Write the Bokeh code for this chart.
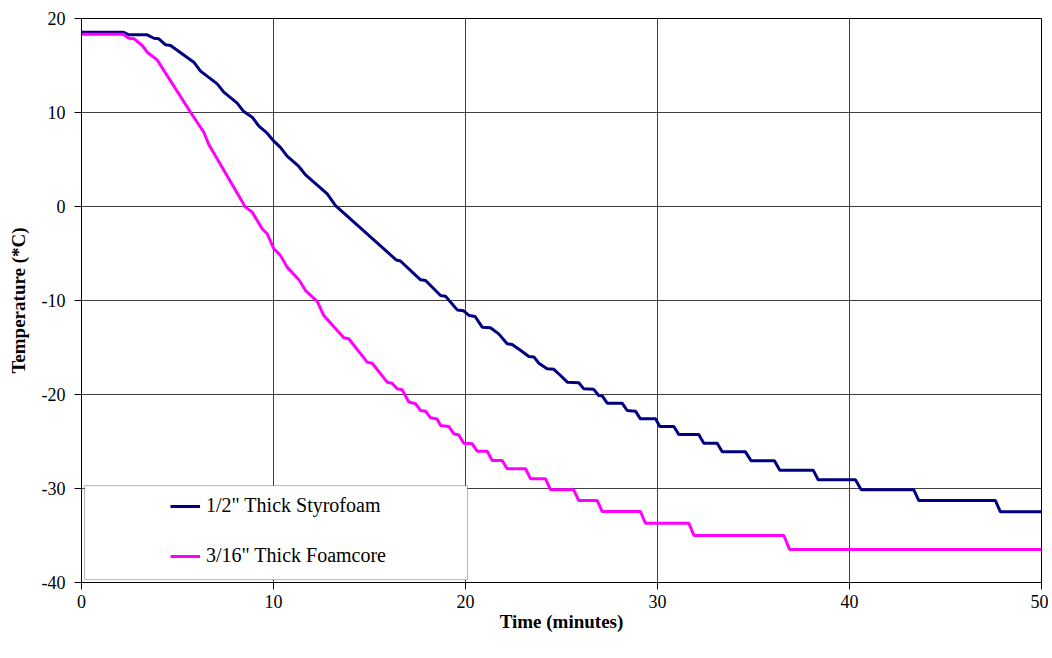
from bokeh.plotting import figure
from bokeh.models import Range1d, Legend, LegendItem, BoxAnnotation, FixedTicker
from bokeh.embed import file_html
from bokeh.resources import INLINE

# 1/2" Thick Styrofoam
styro_t = [0.0, 2.17, 2.47, 3.42, 3.77, 4.03, 4.38, 4.64, 5.85, 6.2, 7.07, 7.41, 8.11, 8.45, 8.89,
           9.24, 9.67, 10.02, 10.36, 10.71, 11.32, 11.67, 12.8, 13.23, 16.4, 16.61, 17.66, 17.92,
           18.7, 18.96, 19.57, 19.9, 20.2, 20.5, 20.87, 21.3, 21.73, 22.17, 22.43, 22.86, 23.3,
           23.56, 23.82, 24.25, 24.6, 24.95, 25.3, 25.9, 26.16, 26.68, 26.94, 27.12, 27.38, 28.16,
           28.42, 28.85, 29.11, 29.9, 30.12, 30.85, 31.11, 32.15, 32.41, 33.11, 33.37, 34.58, 34.88,
           36.09, 36.37, 38.11, 38.37, 40.31, 40.61, 43.35, 43.61, 47.6, 47.86, 50.0]
styro_c = [18.54, 18.54, 18.26, 18.26, 17.9, 17.84, 17.2, 17.13, 15.35, 14.4, 13.05, 12.16, 11.0,
           10.1, 9.5, 8.54, 7.8, 6.95, 6.3, 5.35, 4.26, 3.37, 1.35, 0.1, -5.7, -5.8, -7.8, -7.87,
           -9.47, -9.54, -11.0, -11.1, -11.6, -11.7, -12.84, -12.9, -13.55, -14.6, -14.68, -15.3,
           -15.96, -16.0, -16.67, -17.27, -17.32, -17.98, -18.69, -18.75, -19.4, -19.45, -20.1,
           -20.15, -20.92, -20.92, -21.7, -21.77, -22.59, -22.59, -23.4, -23.4, -24.26, -24.26,
           -25.18, -25.18, -26.1, -26.1, -27.06, -27.06, -28.05, -28.05, -29.08, -29.08, -30.14,
           -30.14, -31.28, -31.28, -32.48, -32.48]

# 3/16" Thick Foamcore
foam_t = [0.0, 2.17, 2.47, 2.73, 3.16, 3.46, 3.94, 5.68, 6.37, 6.63, 8.54, 8.89, 9.41, 9.67, 10.02,
          10.36, 10.71, 11.32, 11.67, 12.28, 12.62, 13.66, 13.92, 14.88, 15.14, 15.92, 16.18, 16.44,
          16.7, 17.05, 17.4, 17.66, 17.92, 18.18, 18.52, 18.7, 19.13, 19.39, 19.65, 19.91, 20.35,
          20.61, 21.13, 21.39, 21.91, 22.17, 23.13, 23.39, 24.17, 24.43, 25.64, 25.9, 26.86, 27.12,
          29.11, 29.37, 31.63, 31.9, 36.58, 36.88, 50.0]
foam_c = [18.33, 18.33, 17.9, 17.85, 17.13, 16.35, 15.6, 10.03, 7.9, 6.6, -0.07, -0.6, -2.37, -2.9,
          -4.5, -5.2, -6.45, -7.8, -8.94, -10.1, -11.6, -13.97, -14.07, -16.56, -16.67, -18.69,
          -18.8, -19.4, -19.5, -20.8, -20.99, -21.7, -21.77, -22.48, -22.6, -23.3, -23.4, -24.18,
          -24.3, -25.18, -25.25, -26.03, -26.03, -27.02, -27.02, -27.9, -27.9, -28.97, -28.97,
          -30.14, -30.14, -31.28, -31.28, -32.45, -32.45, -33.69, -33.69, -35.0, -35.0, -36.49,
          -36.49]

x_ticks = [0, 10, 20, 30, 40, 50]
y_ticks = [-40, -30, -20, -10, 0, 10, 20]
y_tick_labels = ["-40", "-30", "-20", "-10", "0", "10", "20"]
series_names = ['1/2" Thick Styrofoam', '3/16" Thick Foamcore']

FONT = "Liberation Serif"

p = figure(width=1048, height=650, output_backend="svg", toolbar_location=None,
           x_range=Range1d(0, 50), y_range=Range1d(-40, 20),
           min_border_left=81, min_border_right=7, min_border_top=18, min_border_bottom=68)
p.background_fill_color = "white"
p.border_fill_color = "white"
p.outline_line_color = "black"
p.outline_line_width = 1

for ax in (p.xaxis, p.yaxis):
    ax.axis_line_color = "black"
    ax.major_tick_line_color = "black"
    ax.major_tick_in = 0
    ax.major_tick_out = 7
    ax.minor_tick_line_color = None
    ax.major_label_text_font = FONT
    ax.major_label_text_font_size = "18px"
    ax.major_label_text_color = "black"
    ax.axis_label_text_font = FONT
    ax.axis_label_text_font_size = "19px"
    ax.axis_label_text_font_style = "bold"
    ax.axis_label_text_color = "black"

p.xaxis.ticker = FixedTicker(ticks=x_ticks)
p.yaxis.ticker = FixedTicker(ticks=y_ticks)
p.yaxis.major_label_overrides = {t: s for t, s in zip(y_ticks, y_tick_labels)}
p.xaxis.axis_label = "Time (minutes)"
p.yaxis.axis_label = "Temperature (*C)"
p.xaxis.major_label_standoff = 5
p.xaxis.axis_label_standoff = 0
p.yaxis.major_label_standoff = 9
p.yaxis.axis_label_standoff = 10

p.xgrid.grid_line_color = "black"
p.ygrid.grid_line_color = "black"
p.xgrid.grid_line_alpha = 0.75
p.ygrid.grid_line_alpha = 0.75

r1 = p.line(styro_t, styro_c, line_color="#000080", line_width=3)
r2 = p.line(foam_t, foam_c, line_color="#FF00FF", line_width=3)

box = BoxAnnotation(left=0.16, right=20.1, bottom=-39.7, top=-29.7,
                    fill_color="white", fill_alpha=1.0, line_color="black", line_width=1)
p.add_layout(box)

legend = Legend(items=[LegendItem(label=series_names[0], renderers=[r1]),
                       LegendItem(label=series_names[1], renderers=[r2])],
                location=(89, 15), padding=0, margin=0, spacing=27,
                glyph_width=30, glyph_height=20, label_height=20, label_standoff=6,
                label_text_font=FONT, label_text_font_size="20px", label_text_color="black",
                border_line_color=None, background_fill_alpha=0)
p.add_layout(legend, "center")

open("out.html", "w").write(file_html(p, INLINE))
